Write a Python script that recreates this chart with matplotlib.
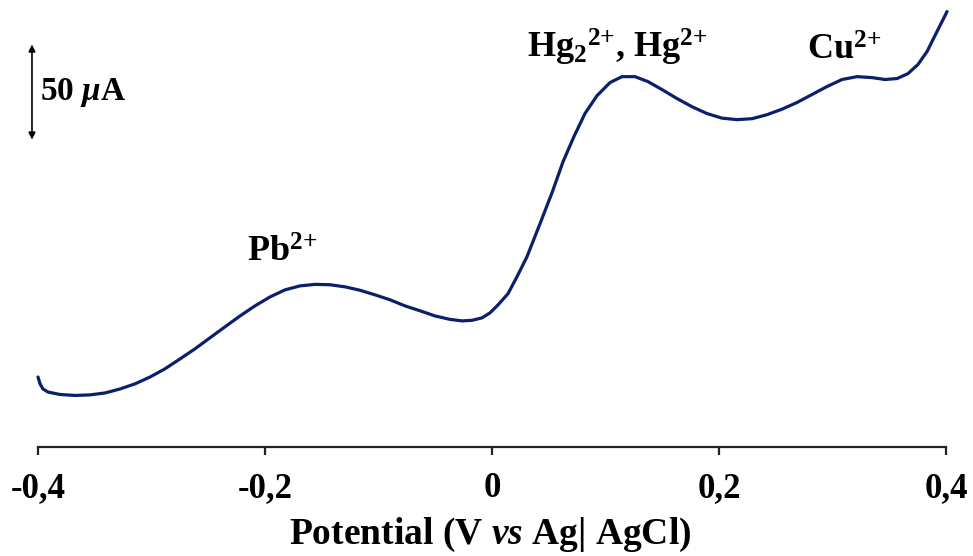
import matplotlib
matplotlib.use("Agg")
import matplotlib.pyplot as plt

plt.rcParams['font.family'] = ['Liberation Serif', 'DejaVu Serif']
plt.rcParams['font.weight'] = 'bold'
plt.rcParams['mathtext.fontset'] = 'custom'
plt.rcParams['mathtext.rm'] = 'Liberation Serif:bold'
plt.rcParams['mathtext.it'] = 'Liberation Serif:bold:italic'
plt.rcParams['mathtext.bf'] = 'Liberation Serif:bold'

# Square-wave voltammogram: potential (V vs Ag|AgCl) and current (µA)
potential = [-0.4000, -0.3982, -0.3956, -0.3912, -0.3806, -0.3674, -0.3542, -0.3410,
             -0.3278, -0.3145, -0.3013, -0.2881, -0.2749, -0.2617, -0.2485, -0.2352,
             -0.2220, -0.2088, -0.1956, -0.1824, -0.1692, -0.1559, -0.1427, -0.1295,
             -0.1163, -0.1031, -0.0899, -0.0767, -0.0634, -0.0502, -0.0370, -0.0264,
             -0.0176, -0.0088, -0.0018, 0.0053, 0.0141, 0.0220, 0.0308, 0.0423,
             0.0529, 0.0626, 0.0722, 0.0819, 0.0925, 0.1040, 0.1145, 0.1260,
             0.1374, 0.1498, 0.1630, 0.1762, 0.1894, 0.2026, 0.2159, 0.2291,
             0.2423, 0.2555, 0.2687, 0.2819, 0.2952, 0.3084, 0.3216, 0.3348,
             0.3463, 0.3568, 0.3665, 0.3753, 0.3833, 0.3903, 0.3956, 0.4009]
current = [36.8, 33.2, 30.5, 28.9, 27.6, 27.1, 27.4, 28.4,
           30.5, 33.2, 36.8, 41.1, 46.3, 51.6, 57.4, 63.2,
           68.9, 74.2, 78.9, 82.6, 84.7, 85.5, 85.3, 84.2,
           82.4, 80.0, 77.4, 74.2, 71.6, 68.9, 67.1, 66.3,
           66.6, 67.9, 70.5, 74.7, 80.6, 89.5, 100.0, 117.4,
           133.7, 150.0, 163.2, 175.3, 184.7, 191.6, 194.7, 194.7,
           192.1, 187.9, 183.2, 178.9, 175.3, 172.9, 172.1, 172.6,
           174.7, 177.6, 181.1, 185.3, 189.5, 193.2, 194.7, 194.2,
           193.2, 193.7, 196.3, 201.1, 207.9, 216.3, 222.6, 228.9]

tick_values = [-0.4, -0.2, 0.0, 0.2, 0.4]
tick_labels = ['-0,4', '-0,2', '0', '0,2', '0,4']

scale_bar = 50  # µA
scale_bar_top = 211.6

fig = plt.figure(figsize=(9.73, 5.56), dpi=100)
ax = fig.add_axes([38 / 973, 109 / 556, 908 / 973, 447 / 556])
ax.set_xlim(-0.4, 0.4)
ax.set_ylim(0, 235)

ax.plot(potential, current, color='#0b1f6b', lw=2.3, solid_capstyle='round',
        solid_joinstyle='round', clip_on=False)

for side in ('top', 'right', 'left'):
    ax.spines[side].set_visible(False)
ax.spines['bottom'].set_linewidth(1.6)
ax.spines['bottom'].set_color('#222222')
ax.set_yticks([])
ax.set_xticks(tick_values)
ax.set_xticklabels(tick_labels, fontsize=25, fontweight='bold')
ax.tick_params(axis='x', direction='out', length=6, width=1.6, color='#222222', pad=12)

fig.text(490 / 973, 2 / 556, r'Potential (V $\mathit{vs}$ Ag| AgCl)',
         ha='center', va='bottom', fontsize=27, fontweight='bold')

# Peak assignments
ax.text(-0.216, 97.4, r'Pb$^{2{+}}$', fontsize=26, fontweight='bold', va='baseline')
ax.text(0.031, 204.7, r'Hg$_2$$^{2{+}}$, Hg$^{2{+}}$', fontsize=26, fontweight='bold',
        va='baseline')
ax.text(0.2775, 203.7, r'Cu$^{2{+}}$', fontsize=26, fontweight='bold', va='baseline')

# Current scale bar
ax.annotate('', xy=(-0.4053, scale_bar_top), xytext=(-0.4053, scale_bar_top - scale_bar),
            arrowprops=dict(arrowstyle='<|-|>', color='black', lw=1.2,
                            mutation_scale=10, shrinkA=0, shrinkB=0),
            annotation_clip=False)
ax.text(-0.398, scale_bar_top - scale_bar / 2, r'50 $\mathit{\mu}$A', fontsize=24,
        fontweight='bold', va='center', ha='left')

fig.savefig('out.png', dpi=100)
